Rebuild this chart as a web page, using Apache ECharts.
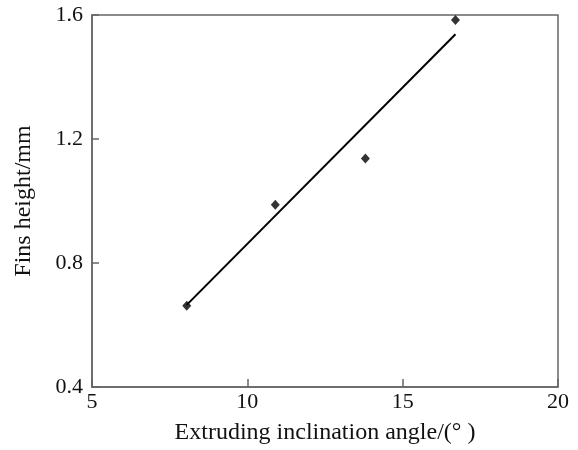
<!DOCTYPE html>
<html>
<head>
<meta charset="utf-8">
<script src="https://cdn.jsdelivr.net/npm/echarts@6/dist/echarts.min.js"></script>
<style>
  html, body { margin: 0; padding: 0; background: #fff; }
  #chart { width: 578px; height: 450px; }
</style>
</head>
<body>
<div id="chart"></div>
<script>
// measured points: inclination angle (deg) vs fins height (mm)
var angles = [8.05, 10.9, 13.8, 16.7]
var heights = [0.662, 0.988, 1.137, 1.584]
// linear fit line end points
var fitX = [8.05, 16.7]
var fitY = [0.665, 1.538]

var xTicks = [5, 10, 15, 20]
var yTicks = [0.4, 0.8, 1.2, 1.6]

var chart = echarts.init(document.getElementById('chart'))

var axisColor = '#666'
var font = 'Liberation Serif, Times New Roman, serif'

var option = {
  animation: false,
  backgroundColor: '#fff',
  textStyle: { fontFamily: font },
  grid: {
    left: 92,
    right: 20,
    top: 15,
    bottom: 60,
    show: true,
    borderColor: axisColor,
    borderWidth: 1.5,
  },
  xAxis: {
    type: 'value',
    min: xTicks[0],
    max: xTicks[xTicks.length - 1],
    interval: 5,
    name: 'Extruding inclination angle/(\u00b0 )',
    nameLocation: 'middle',
    nameGap: 34,
    nameTextStyle: { fontSize: 24, color: '#111', fontFamily: font },
    axisLine: { lineStyle: { color: axisColor, width: 1.5 } },
    axisTick: { inside: true, length: 8, lineStyle: { color: axisColor, width: 1.5 } },
    axisLabel: { fontSize: 22, color: '#111', margin: 4, fontFamily: font },
    splitLine: { show: false },
  },
  yAxis: {
    type: 'value',
    min: yTicks[0],
    max: yTicks[yTicks.length - 1],
    interval: 0.4,
    name: 'Fins height/mm',
    nameLocation: 'middle',
    nameGap: 56,
    nameTextStyle: { fontSize: 24, color: '#111', fontFamily: font },
    axisLine: { lineStyle: { color: axisColor, width: 1.5 } },
    axisTick: { inside: true, length: 7, lineStyle: { color: axisColor, width: 1.5 } },
    axisLabel: {
      fontSize: 22,
      color: '#111',
      margin: 9,
      fontFamily: font,
      formatter: function (v) {
        return v.toFixed(1)
      },
    },
    splitLine: { show: false },
  },
  series: [
    {
      type: 'line',
      data: fitX.map(function (x, i) {
        return [x, fitY[i]]
      }),
      showSymbol: false,
      symbol: 'none',
      lineStyle: { color: '#000', width: 2 },
      z: 2,
    },
    {
      type: 'scatter',
      data: angles.map(function (x, i) {
        return [x, heights[i]]
      }),
      symbol: 'diamond',
      symbolSize: [9, 10],
      itemStyle: { color: '#000' },
      z: 3,
    },
  ],
}

chart.setOption(option)
</script>
</body>
</html>
